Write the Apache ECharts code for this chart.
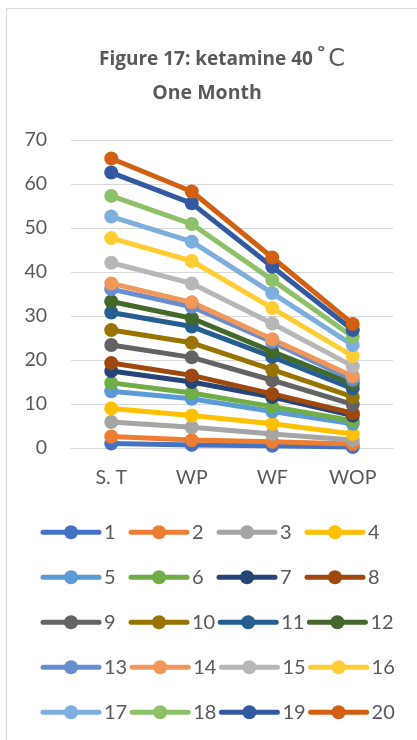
<!DOCTYPE html>
<html>
<head>
<meta charset="utf-8">
<script src="https://cdn.jsdelivr.net/npm/echarts@6/dist/echarts.min.js"></script>
<style>
  html, body { margin: 0; padding: 0; background: #fff; }
  #chart { width: 417px; height: 740px; }
</style>
</head>
<body>
<div id="chart"></div>
<script>
const categories = ['S. T', 'WP', 'WF', 'WOP']
const yTicks = [0, 10, 20, 30, 40, 50, 60, 70]

const seriesNames = ['1', '2', '3', '4', '5', '6', '7', '8', '9', '10',
  '11', '12', '13', '14', '15', '16', '17', '18', '19', '20']

const colors = ['#4472C4', '#ED7D31', '#A5A5A5', '#FFC000', '#5B9BD5', '#70AD47',
  '#264478', '#9E480E', '#636363', '#997300', '#255E91', '#43682B',
  '#698ED0', '#F1975A', '#B7B7B7', '#FFCD33', '#7CAFDD', '#8CC168',
  '#335AA1', '#D26012']

// one row per series: S. T, WP, WF, WOP
const values = [
  [1.0, 0.7, 0.5, 0.2],
  [2.6, 1.8, 1.4, 0.9],
  [5.9, 4.7, 3.2, 1.8],
  [9.0, 7.4, 5.5, 3.2],
  [12.9, 11.2, 8.3, 5.5],
  [14.8, 12.5, 9.4, 6.2],
  [17.5, 15.0, 11.6, 7.4],
  [19.3, 16.5, 12.3, 7.9],
  [23.4, 20.6, 15.4, 9.9],
  [26.8, 23.9, 17.8, 11.6],
  [30.8, 27.6, 20.7, 13.5],
  [33.3, 29.5, 21.9, 14.6],
  [36.1, 32.1, 24.1, 15.5],
  [37.4, 33.1, 24.7, 16.3],
  [42.1, 37.4, 28.3, 18.6],
  [47.7, 42.5, 31.8, 20.9],
  [52.6, 46.9, 35.2, 23.4],
  [57.3, 50.9, 38.2, 25.3],
  [62.6, 55.6, 41.2, 26.8],
  [65.8, 58.3, 43.3, 28.2],
]

const textColor = '#595959'
const font = 'Lato'
const titleFont = 'Open Sans'

const chart = echarts.init(document.getElementById('chart'))

chart.setOption({
  animation: false,
  color: colors,
  graphic: [
    {
      type: 'rect',
      shape: { x: 6.5, y: 8.5, width: 600, height: 900 },
      style: { fill: 'none', stroke: '#D9D9D9', lineWidth: 1.2 },
      silent: true,
    },
    {
      type: 'text',
      x: 99,
      y: 60,
      style: {
        text: '{b|Figure 17: ketamine 40}{d|˚}{c|C}',
        align: 'left',
        verticalAlign: 'middle',
        rich: {
          b: { fontFamily: titleFont, fontWeight: 'bold', fontSize: 19, fill: textColor },
          d: { fontFamily: 'Noto Sans', fontWeight: 'normal', fontSize: 28, fill: textColor, padding: [0, 3, 0, 4] },
          c: { fontFamily: 'DejaVu Sans', fontWeight: 'normal', fontSize: 24, fill: textColor },
        },
      },
    },
    {
      type: 'text',
      x: 207,
      y: 93,
      style: {
        text: 'One Month',
        align: 'center',
        verticalAlign: 'middle',
        fontFamily: titleFont,
        fontWeight: 'bold',
        fontSize: 19.5,
        fill: textColor,
      },
    },
  ],
  grid: { left: 71, right: 24, top: 140, bottom: 292 },
  xAxis: {
    type: 'category',
    data: categories,
    boundaryGap: true,
    axisLine: { show: true, lineStyle: { color: '#D9D9D9', width: 1 } },
    axisTick: { show: false },
    axisLabel: { color: textColor, fontFamily: font, fontSize: 19.5, margin: 20 },
  },
  yAxis: {
    type: 'value',
    min: yTicks[0],
    max: yTicks[yTicks.length - 1],
    interval: 10,
    axisLine: { show: false },
    axisTick: { show: false },
    splitLine: { lineStyle: { color: '#D9D9D9', width: 1 } },
    axisLabel: { color: textColor, fontFamily: font, fontSize: 19.5, margin: 24 },
  },
  legend: {
    data: seriesNames,
    left: 40.5,
    top: 511,
    width: 380,
    padding: 0,
    itemGap: 2.5,
    itemWidth: 56,
    itemHeight: 17.5,
    lineStyle: { width: 5 },
    textStyle: {
      color: textColor,
      fontFamily: font,
      fontSize: 20,
      width: 22,
      lineHeight: 42.5,
    },
  },
  series: seriesNames.map((name, i) => ({
    name,
    type: 'line',
    data: values[i],
    symbol: 'circle',
    symbolSize: 14,
    lineStyle: { width: 5, color: colors[i], cap: 'round', join: 'round' },
    itemStyle: { color: colors[i] },
  })),
})
</script>
</body>
</html>
